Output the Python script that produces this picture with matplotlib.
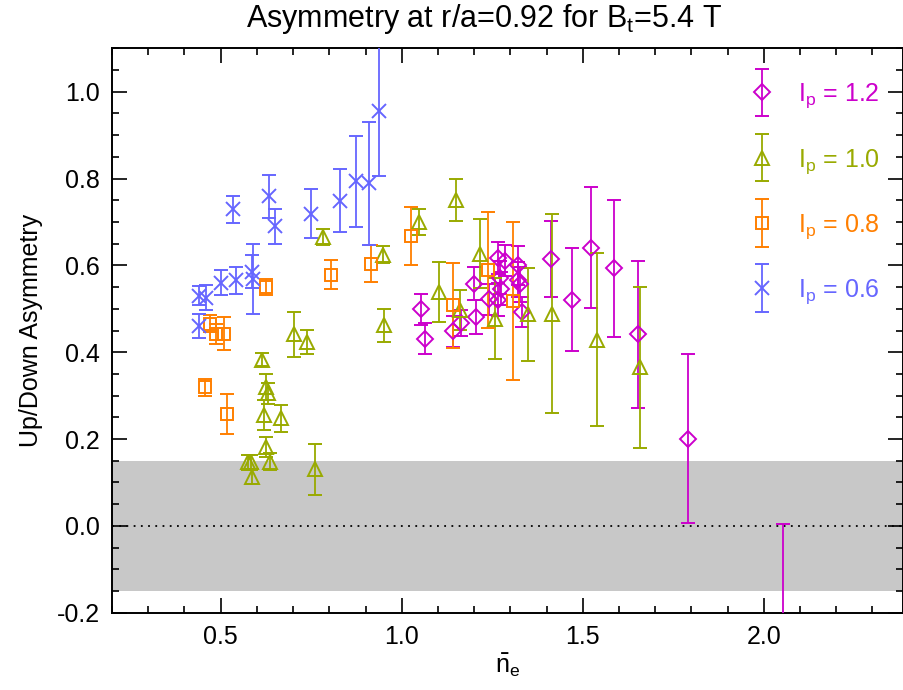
import matplotlib
matplotlib.use("Agg")
import matplotlib.pyplot as plt
from matplotlib.ticker import MultipleLocator, FixedLocator
from matplotlib.container import ErrorbarContainer
from matplotlib.legend_handler import HandlerErrorbar

plt.rcParams['font.family'] = ['Liberation Sans', 'DejaVu Sans']

# ---- data: Ip = 1.2 (diamonds) ----
x12 = [1.052, 1.065, 1.142, 1.163, 1.200, 1.204, 1.241, 1.266, 1.285, 1.271, 1.275, 1.266,
       1.321, 1.321, 1.326, 1.333, 1.412, 1.470, 1.524, 1.586, 1.654, 1.790, 2.052]
y12 = [0.499, 0.431, 0.448, 0.467, 0.558, 0.481, 0.522, 0.617, 0.611, 0.571, 0.546, 0.521,
       0.600, 0.567, 0.556, 0.493, 0.615, 0.521, 0.641, 0.593, 0.441, 0.201, -0.250]
e12 = [0.036, 0.036, 0.036, 0.030, 0.038, 0.039, 0.036, 0.037, 0.036, 0.038, 0.038, 0.038,
       0.045, 0.040, 0.040, 0.035, 0.088, 0.119, 0.140, 0.158, 0.170, 0.195, 0.255]

# ---- data: Ip = 1.0 (triangles) ----
x10 = [0.783, 0.948, 0.703, 0.739, 0.951, 0.614, 0.625, 0.632, 0.620, 0.666, 0.626, 0.637,
       0.575, 0.585, 0.587, 0.760, 1.048, 1.149, 1.103, 1.162, 1.217, 1.257, 1.349, 1.416,
       1.540, 1.657]
y10 = [0.665, 0.625, 0.441, 0.424, 0.462, 0.383, 0.320, 0.305, 0.255, 0.248, 0.182, 0.148,
       0.146, 0.146, 0.113, 0.130, 0.700, 0.751, 0.539, 0.497, 0.627, 0.477, 0.487, 0.489,
       0.429, 0.365]
e10 = [0.018, 0.019, 0.051, 0.027, 0.038, 0.015, 0.030, 0.025, 0.035, 0.031, 0.023, 0.020,
       0.018, 0.018, 0.017, 0.059, 0.031, 0.048, 0.069, 0.046, 0.079, 0.093, 0.107, 0.230,
       0.200, 0.185]

# ---- data: Ip = 0.8 (squares) ----
x08 = [0.470, 0.488, 0.508, 0.458, 0.518, 0.626, 0.804, 0.915, 1.025, 1.142, 1.238, 1.307]
y08 = [0.466, 0.443, 0.443, 0.319, 0.257, 0.550, 0.579, 0.604, 0.667, 0.508, 0.589, 0.518]
e08 = [0.020, 0.023, 0.038, 0.020, 0.046, 0.019, 0.033, 0.042, 0.067, 0.098, 0.134, 0.182]

# ---- data: Ip = 0.6 (crosses) ----
x06 = [0.440, 0.459, 0.502, 0.541, 0.587, 0.589, 0.534, 0.633, 0.649, 0.750, 0.829, 0.875,
       0.909, 0.936, 0.440]
y06 = [0.530, 0.526, 0.560, 0.566, 0.585, 0.569, 0.729, 0.759, 0.690, 0.719, 0.749, 0.794,
       0.789, 0.956, 0.460]
e06 = [0.022, 0.028, 0.029, 0.031, 0.038, 0.080, 0.031, 0.050, 0.040, 0.057, 0.073, 0.105,
       0.142, 0.149, 0.028]

series_labels = ['I$_\\mathregular{p}$ = 1.2', 'I$_\\mathregular{p}$ = 1.0',
                 'I$_\\mathregular{p}$ = 0.8', 'I$_\\mathregular{p}$ = 0.6']
colors = ['#CC00CC', '#99AA00', '#FF7F00', '#6666FF']
markers = ['D', '^', 's', 'x']
msizes = [8, 10, 9, 10]

band_lo, band_hi = -0.15, 0.15

fig = plt.figure(figsize=(9.04, 6.90), dpi=100)
ax = fig.add_axes([0.124, 0.112, 0.875, 0.818])

ax.axhspan(band_lo, band_hi, color='#C8C8C8', lw=0, zorder=0)
ax.axhline(0.0, color='black', ls=(0, (1, 3)), lw=1.3, zorder=1)

data = [(x12, y12, e12), (x10, y10, e10), (x08, y08, e08), (x06, y06, e06)]
handles = []
for (xs, ys, es), c, m, ms, lab in zip(data, colors, markers, msizes, series_labels):
    h = ax.errorbar(xs, ys, yerr=es, fmt=m, ls='none', color=c, mfc='none', mec=c,
                    ms=ms, mew=1.4, elinewidth=1.3, capsize=5, capthick=1.3,
                    label=lab, zorder=3)
    handles.append(h)

ax.set_xlim(0.2, 2.385)
ax.set_ylim(-0.2, 1.1)
ax.xaxis.set_major_locator(FixedLocator([0.5, 1.0, 1.5, 2.0]))
ax.xaxis.set_minor_locator(MultipleLocator(0.1))
ax.yaxis.set_minor_locator(MultipleLocator(0.05))
ax.set_xticklabels(['0.5', '1.0', '1.5', '2.0'])
ax.set_yticks([-0.2, 0.0, 0.2, 0.4, 0.6, 0.8, 1.0])
ax.set_yticklabels(['-0.2', '0.0', '0.2', '0.4', '0.6', '0.8', '1.0'])
ax.tick_params(which='both', direction='in', top=True, right=True, width=1.2,
               labelsize=18, pad=9)
ax.tick_params(which='major', length=11)
ax.tick_params(which='minor', length=5)
for s in ax.spines.values():
    s.set_linewidth(1.4)

ax.set_xlabel('$\\bar{\\mathregular{n}}_\\mathregular{e}$', fontsize=18, labelpad=2)
ax.set_ylabel('Up/Down Asymmetry', fontsize=18, labelpad=10)
fig.text(0.535, 0.972, 'Asymmetry at r/a=0.92 for B$_\\mathregular{t}$=5.4 T',
         ha='center', va='center', fontsize=22, family=['Liberation Sans Narrow', 'Liberation Sans'])

leg = ax.legend(handles=handles, loc='upper right', frameon=False, fontsize=18,
                handlelength=1.0, handletextpad=0.95, labelspacing=1.46,
                borderaxespad=0.3, bbox_to_anchor=(0.993, 0.972),
                handler_map={ErrorbarContainer: HandlerErrorbar(xerr_size=0.95)})
for t, c in zip(leg.get_texts(), colors):
    t.set_color(c)

fig.savefig('out.png', dpi=100)
